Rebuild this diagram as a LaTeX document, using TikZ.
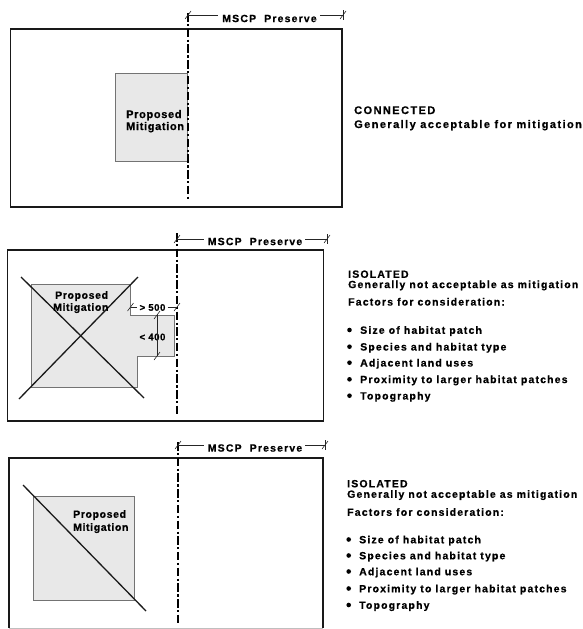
\documentclass[tikz,border=0pt]{standalone}
\usepackage{fontspec}
\setmainfont{Liberation Sans}
\newfontfamily\sidefont[LetterSpace=11, BoldFeatures={FakeBold=0.6}]{Liberation Sans}
\newfontfamily\sidefontb[LetterSpace=13, BoldFeatures={FakeBold=0.6}]{Liberation Sans}
\newfontfamily\boxfont[LetterSpace=6, BoldFeatures={FakeBold=0.6}]{Liberation Sans}
\tikzset{
  frame/.style={draw=black!90, line width=1.8pt},
  boundary/.style={draw=black, line width=2.4pt, dash pattern=on 8.5pt off 2.5pt on 2.2pt off 2.5pt},
  dimline/.style={draw=black!85, line width=0.6pt},
  patch/.style={fill=black!9, draw=black!55, line width=0.8pt},
  cross/.style={draw=black!90, line width=1.3pt},
  sidetxt/.style={anchor=base west, inner sep=0pt, font=\sidefont\bfseries\fontsize{10.5}{12}\selectfont},
  sidebig/.style={anchor=base west, inner sep=0pt, font=\sidefontb\bfseries\fontsize{11}{13}\selectfont},
  boxtxt/.style={anchor=base west, inner sep=0pt, font=\boxfont\bfseries\fontsize{10.5}{12}\selectfont},
  boxbig/.style={anchor=base west, inner sep=0pt, font=\boxfont\bfseries\fontsize{11}{13}\selectfont},
  lbltxt/.style={anchor=center, inner sep=0pt, font=\sidefont\bfseries\fontsize{10.5}{12}\selectfont},
  dimtxt/.style={anchor=center, inner sep=0pt, font=\boxfont\bfseries\fontsize{9.5}{11}\selectfont},
  dot/.style={circle, fill=black, inner sep=0pt, minimum size=4.6pt},
}
\newcommand{\tickmark}[2]{\draw[dimline] (#1-3,#2+4) -- (#1+3,#2-4);}
\begin{document}
\begin{tikzpicture}[x=1pt,y=-1pt]
\useasboundingbox (0,0) rectangle (582,629);

% ---------------- Panel 1 ----------------
\draw[frame] (10.5,29) rectangle (342,207);
\draw[patch] (115,73) rectangle (187,161);
\draw[boundary] (188,13) -- (188,200);
\coordinate (d1a) at (188,15);
\coordinate (d1b) at (343,15);
\node[lbltxt] (m1) at (269.5,18.5) {MSCP\ \ Preserve};
\draw[dimline] (d1a) -- ([xshift=-4pt]m1.west |- d1a) ([xshift=3pt]m1.east |- d1b) -- (d1b);
\tickmark{188}{15}
\tickmark{343}{15}
\draw[dimline] (343,10) -- (343,20);
\node[boxbig] (p1a) at (126,118) {Proposed};
\node[boxbig] (p1b) at (126,130) {Mitigation};
\node[sidebig] (c1a) at (354,114) {CONNECTED};
\node[sidebig] (c1b) at (354,128) {Generally acceptable for mitigation};

% ---------------- Panel 2 ----------------
\draw[frame] (7.5,250) rectangle (323.5,421);
\draw[patch] (31,284) -- (130.5,284) -- (130.5,315) -- (174,315) -- (174,356) -- (137,356) -- (137,387) -- (31,387) -- cycle;
\draw[boundary] (177,233) -- (177,414);
\draw[cross] (21,277) -- (144,398);
\draw[cross] (138,277) -- (19,399);
\coordinate (d2a) at (177,239);
\coordinate (d2b) at (327,239);
\node[lbltxt] (m2) at (255,241.5) {MSCP\ \ Preserve};
\draw[dimline] (d2a) -- ([xshift=-4pt]m2.west |- d2a) ([xshift=3pt]m2.east |- d2b) -- (d2b);
\tickmark{177}{239}
\tickmark{327}{239}
\draw[dimline] (327,234) -- (327,244);
\node[boxtxt] (p2a) at (55,298.8) {Proposed};
\node[boxtxt] (p2b) at (53,310.8) {Mitigation};
% > 500
\coordinate (g500a) at (130.5,307);
\coordinate (g500b) at (177,307);
\node[dimtxt] (g500) at (152.5,307.5) {> 500};
\draw[dimline] (g500a) -- ([xshift=-2pt]g500.west |- g500a) ([xshift=2pt]g500.east |- g500b) -- (g500b);
\tickmark{130.5}{307}
\tickmark{177}{307}
% < 400
\coordinate (l400a) at (157,315);
\coordinate (l400b) at (157,356);
\node[dimtxt] (l400) at (152.5,337) {< 400};
\draw[dimline] (l400a) -- ([yshift=-4pt]l400.north -| l400a) ([yshift=4pt]l400.south -| l400b) -- (l400b);
\tickmark{157}{315}
\tickmark{157}{356}
% side text
\node[sidetxt] (i2a) at (348,277.8) {ISOLATED};
\node[sidetxt] (i2b) at (348,288.1) {Generally not acceptable as mitigation};
\node[sidetxt] (i2c) at (348,305.5) {Factors for consideration:};
\node[dot] (b21) at (349.5,330) {};
\node[dot] (b22) at (349.5,346.7) {};
\node[dot] (b23) at (349.5,362.7) {};
\node[dot] (b24) at (349.5,379.3) {};
\node[dot] (b25) at (349.5,395.7) {};
\node[sidetxt] (t21) at (360,333.8) {Size of habitat patch};
\node[sidetxt] (t22) at (360,350.5) {Species and habitat type};
\node[sidetxt] (t23) at (360,366.5) {Adjacent land uses};
\node[sidetxt] (t24) at (360,383.1) {Proximity to larger habitat patches};
\node[sidetxt] (t25) at (360,399.5) {Topography};

% ---------------- Panel 3 ----------------
\draw[frame] (9.3,628) -- (9.3,458) -- (323,458) -- (323,628);
\draw[black!25, line width=0.8pt] (9.3,628) -- (323,628);
\draw[patch] (33,496) rectangle (134,600);
\draw[boundary] (178,442) -- (178,623);
\draw[cross] (23,485) -- (146,611);
\coordinate (d3a) at (178,445);
\coordinate (d3b) at (325,445);
\node[lbltxt] (m3) at (255,448) {MSCP\ \ Preserve};
\draw[dimline] (d3a) -- ([xshift=-4pt]m3.west |- d3a) ([xshift=3pt]m3.east |- d3b) -- (d3b);
\tickmark{178}{445}
\tickmark{325}{445}
\draw[dimline] (325,440) -- (325,450);
\node[boxtxt] (p3a) at (73,517.8) {Proposed};
\node[boxtxt] (p3b) at (73,530.8) {Mitigation};
\node[sidetxt] (i3a) at (347,487.3) {ISOLATED};
\node[sidetxt] (i3b) at (347,497.8) {Generally not acceptable as mitigation};
\node[sidetxt] (i3c) at (347,515.8) {Factors for consideration:};
\node[dot] (b31) at (348.7,539.5) {};
\node[dot] (b32) at (348.7,555.5) {};
\node[dot] (b33) at (348.7,571.5) {};
\node[dot] (b34) at (348.7,588.5) {};
\node[dot] (b35) at (348.7,605) {};
\node[sidetxt] (t31) at (359,543.3) {Size of habitat patch};
\node[sidetxt] (t32) at (359,559.3) {Species and habitat type};
\node[sidetxt] (t33) at (359,575.3) {Adjacent land uses};
\node[sidetxt] (t34) at (359,592.3) {Proximity to larger habitat patches};
\node[sidetxt] (t35) at (359,608.8) {Topography};
\end{tikzpicture}
\end{document}
